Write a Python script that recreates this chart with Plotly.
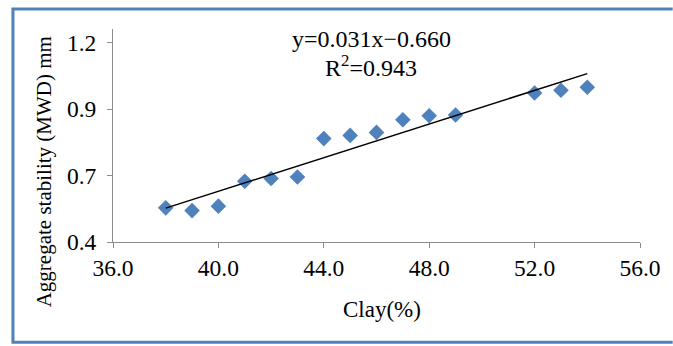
import numpy as np
import plotly.graph_objects as go

# Data
clay = [38, 39, 40, 41, 42, 43, 44, 45, 46, 47, 48, 49, 52, 53, 54]
mwd = [0.537, 0.526, 0.544, 0.644, 0.655, 0.661, 0.815, 0.828, 0.840,
       0.891, 0.907, 0.910, 0.998, 1.009, 1.021]

x_ticks = [36, 40, 44, 48, 52, 56]
x_tick_labels = [f"{v:.1f}" for v in x_ticks]
y_ticks = list(np.linspace(0.4, 1.2, 4))
y_tick_labels = [f"{v:.1f}" for v in y_ticks]

x_title = "Clay(%)"
y_title = "Aggregate stability (MWD) mm"
equation_text = "y=0.031x\u22120.660"
r2_text = "R<sup>2</sup>=0.943"

# Linear trendline fitted to the data
slope, intercept = np.polyfit(clay, mwd, 1)
trend_x = [min(clay), max(clay)]
trend_y = [slope * v + intercept for v in trend_x]

FONT = "Liberation Serif"
AXIS_COLOR = "#8c8c8c"
BLUE = "#4f81bd"

fig = go.Figure()
fig.add_trace(go.Scatter(
    x=clay, y=mwd, mode="markers",
    marker=dict(symbol="diamond", size=12, color=BLUE),
    showlegend=False,
))
fig.add_trace(go.Scatter(
    x=trend_x, y=trend_y, mode="lines",
    line=dict(color="black", width=1.5),
    showlegend=False,
))

L, R, T, B = 113, 28, 29, 103.5
W, H = 673, 346
pw, ph = W - L - R, H - T - B


def px_x(p):
    return (p - L) / pw


def px_y(p):
    return (H - B - p) / ph


fig.update_layout(
    width=W, height=H,
    margin=dict(l=L, r=R, t=T, b=B),
    paper_bgcolor="white", plot_bgcolor="white",
    font=dict(family=FONT, size=23, color="black"),
    xaxis=dict(
        range=[36, 56], tickvals=x_ticks, ticktext=x_tick_labels,
        showline=True, linecolor=AXIS_COLOR, linewidth=1,
        ticks="outside", ticklen=5, tickcolor=AXIS_COLOR,
        showgrid=False, zeroline=False,
        tickfont=dict(family=FONT, size=23.5),
    ),
    yaxis=dict(
        range=[0.4, 1.255], tickvals=y_ticks, ticktext=y_tick_labels,
        showline=True, linecolor=AXIS_COLOR, linewidth=1,
        ticks="outside", ticklen=5, tickcolor=AXIS_COLOR,
        showgrid=False, zeroline=False,
        tickfont=dict(family=FONT, size=23.5),
        ticklabelstandoff=6,
    ),
)

# Axis titles
fig.add_annotation(
    x=px_x(385), y=px_y(310), xref="paper", yref="paper",
    text=x_title, showarrow=False, font=dict(family=FONT, size=23),
    xanchor="center", yanchor="middle",
)
fig.add_annotation(
    x=px_x(43), y=px_y(172), xref="paper", yref="paper",
    text=y_title, showarrow=False, font=dict(family=FONT, size=21),
    textangle=-90, xanchor="center", yanchor="middle",
)

# Equation annotations
fig.add_annotation(
    x=px_x(374), y=px_y(39), xref="paper", yref="paper",
    text=equation_text, showarrow=False, font=dict(family=FONT, size=24),
    xanchor="center", yanchor="middle",
)
fig.add_annotation(
    x=px_x(373), y=px_y(66), xref="paper", yref="paper",
    text=r2_text, showarrow=False, font=dict(family=FONT, size=24),
    xanchor="center", yanchor="middle",
)

# Blue frame (left, top, bottom; open on the right)
x_left, x_right = px_x(12), px_x(W + 5)
y_top, y_bot = px_y(9), px_y(343)
fig.add_shape(type="path", xref="paper", yref="paper",
              path=f"M {x_right} {y_top} L {x_left} {y_top} L {x_left} {y_bot} L {x_right} {y_bot}",
              line=dict(color=BLUE, width=3))

fig.write_html("out.html")
